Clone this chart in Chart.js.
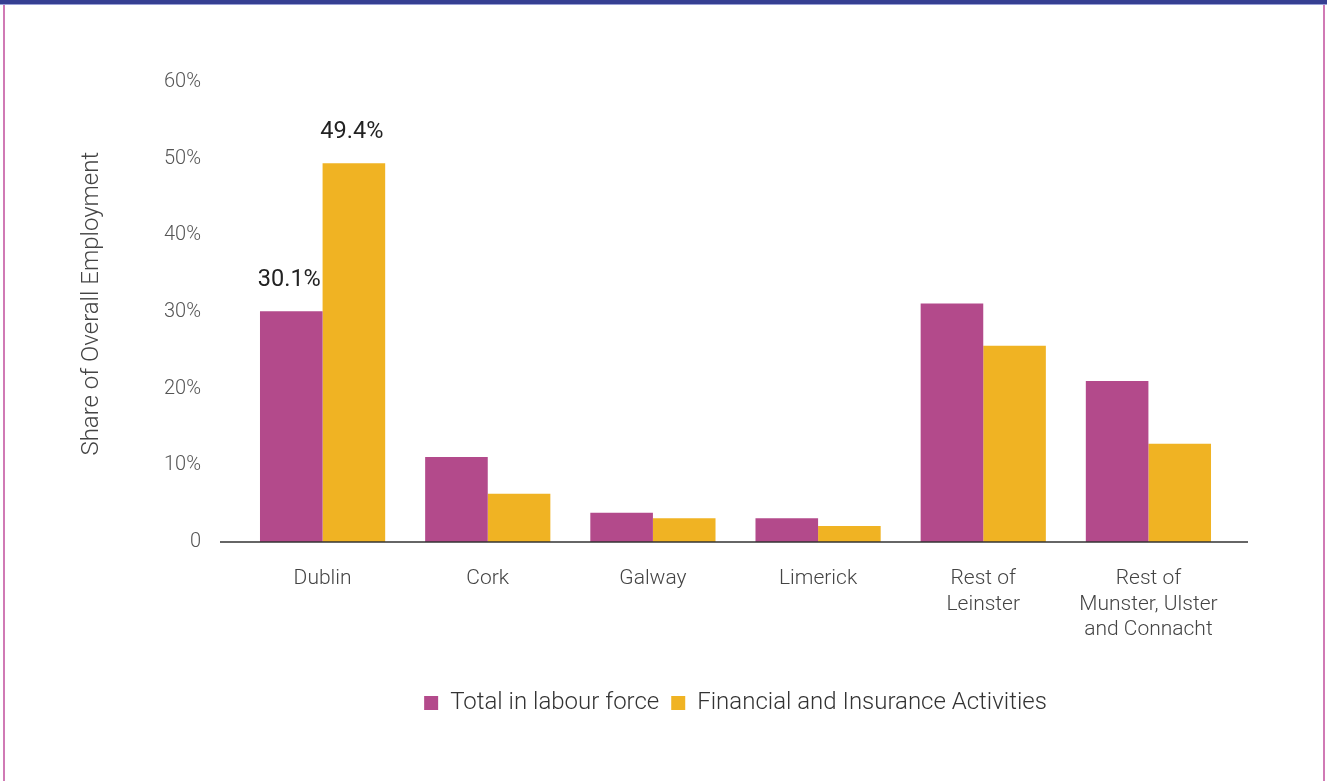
<!DOCTYPE html>
<html>
<head>
<meta charset="utf-8">
<script src="https://cdn.jsdelivr.net/npm/chart.js@4.4.0/dist/chart.umd.min.js"></script>
<style>
  html, body { margin: 0; padding: 0; background: #fff; overflow: hidden; }
  #wrap { position: relative; width: 1327px; height: 781px; }
  #topbar { position: absolute; left: 0; top: 0; width: 1327px; height: 4px; background: #363f92; border-bottom: 1px solid #9aa0d6; }
  #leftline { position: absolute; left: 3px; top: 5px; width: 2px; height: 776px; background: #d07ab5; }
  #rightline { position: absolute; left: 1323px; top: 5px; width: 2px; height: 776px; background: #d07ab5; }
  canvas { position: absolute; left: 0; top: 0; }
</style>
</head>
<body>
<div id="wrap">
  <canvas id="grafik" width="1327" height="781"></canvas>
  <div id="topbar"></div>
  <div id="leftline"></div>
  <div id="rightline"></div>
</div>
<script>
const wilayah = [
  'Dublin',
  'Cork',
  'Galway',
  'Limerick',
  ['Rest of', 'Leinster'],
  ['Rest of', 'Munster, Ulster', 'and Connacht']
];
const totalLabour = [30.1, 11.1, 3.8, 3.1, 31.1, 21.0];
const financial = [49.4, 6.3, 3.1, 2.1, 25.6, 12.8];
const yTicks = [0, 10, 20, 30, 40, 50, 60];

// only these bars carry a value label: [dataset, index]
const labelledBars = [[0, 0], [1, 0]];

const warnaPink = '#b34a8b';
const warnaKuning = '#f0b323';

// baseline that runs a little past the bars on both sides
const garisDasar = {
  id: 'garisDasar',
  afterDatasetsDraw(chart) {
    const c = chart.ctx;
    const area = chart.chartArea;
    const y0 = chart.scales.y.getPixelForValue(0);
    c.save();
    c.strokeStyle = '#333';
    c.lineWidth = 1.3;
    c.beginPath();
    c.moveTo(area.left - 20, y0);
    c.lineTo(area.right + 17, y0);
    c.stroke();
    c.restore();
  }
};

const labelNilai = {
  id: 'labelNilai',
  afterDatasetsDraw(chart) {
    const c = chart.ctx;
    c.save();
    c.font = '400 23.5px Roboto';
    c.fillStyle = '#222';
    c.textAlign = 'center';
    c.textBaseline = 'middle';
    labelledBars.forEach(([ds, i]) => {
      const bar = chart.getDatasetMeta(ds).data[i];
      const v = chart.data.datasets[ds].data[i];
      c.fillText(v.toFixed(1) + '%', bar.x - 2, bar.y - 31);
    });
    c.restore();
  }
};

const ctx = document.getElementById('grafik').getContext('2d');

new Chart(ctx, {
  type: 'bar',
  data: {
    labels: wilayah,
    datasets: [
      { label: 'Total in labour force', data: totalLabour, backgroundColor: warnaPink },
      { label: 'Financial and Insurance Activities', data: financial, backgroundColor: warnaKuning }
    ]
  },
  options: {
    responsive: false,
    animation: false,
    devicePixelRatio: 1,
    layout: { padding: { left: 74, right: 96, top: 82, bottom: 56 } },
    datasets: {
      bar: { barPercentage: 1, categoryPercentage: 0.758 }
    },
    scales: {
      x: {
        grid: { display: false, drawTicks: false },
        border: { display: false },
        ticks: {
          color: '#444',
          padding: 24,
          font: { family: 'Roboto', size: 21, weight: 300, lineHeight: 1.22 },
          maxRotation: 0,
          autoSkip: false
        },
        afterFit(scale) { scale.height = 137; }
      },
      y: {
        min: 0,
        max: 60,
        afterBuildTicks(scale) { scale.ticks = yTicks.map(v => ({ value: v })); },
        grid: { display: false, drawTicks: false },
        border: { display: false },
        ticks: {
          color: '#555',
          padding: 39,
          font: { family: 'Roboto', size: 20, weight: 300 },
          callback: v => v === 0 ? '0' : v + '%'
        },
        title: {
          display: true,
          text: '  \u2009Share of Overall Employment',
          color: '#444',
          font: { family: 'Roboto', size: 24, weight: 300 },
          padding: { top: 4, bottom: 4 }
        },
        afterFit(scale) { scale.width = 166; }
      }
    },
    plugins: {
      legend: {
        position: 'bottom',
        fullSize: false,
        labels: {
          color: '#333',
          boxWidth: 14,
          boxHeight: 14,
          padding: 12,
          font: { family: 'Roboto', size: 24, weight: 300 }
        }
      },
      tooltip: { enabled: false }
    }
  },
  plugins: [garisDasar, labelNilai]
});
</script>
</body>
</html>
